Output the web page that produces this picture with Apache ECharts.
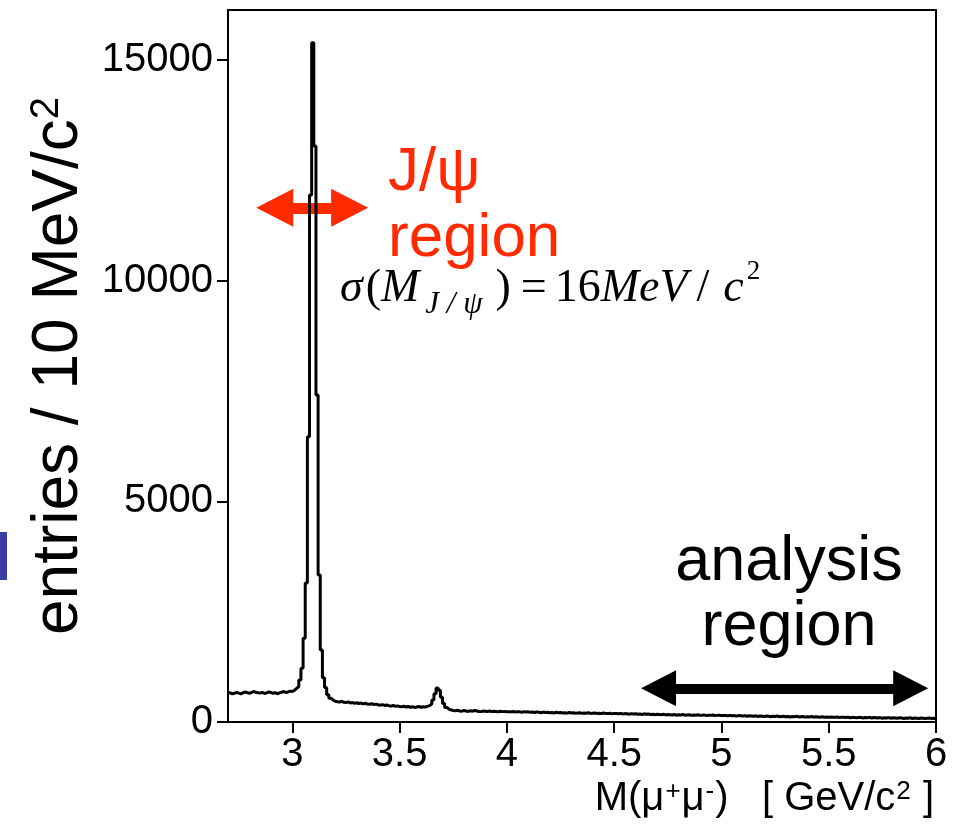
<!DOCTYPE html>
<html>
<head>
<meta charset="utf-8">
<script src="https://cdn.jsdelivr.net/npm/echarts@6/dist/echarts.min.js"></script>
<style>html,body{margin:0;padding:0;background:#fff;}#c{width:958px;height:824px;}</style>
</head>
<body>
<div id="c"></div>
<script>
// ---- data (entries per 10 MeV/c^2 bin, starting at 2.70 GeV/c^2) ----
const binStart = 2.70;
const binWidth = 0.01;
const counts = [
  // 2.70 - 2.99
  660, 640, 650, 670, 655, 640, 660, 680, 665, 650,
  670, 690, 675, 660, 655, 670, 645, 660, 680, 670,
  650, 665, 640, 660, 675, 690, 670, 680, 700, 690,
  // 3.00 - 3.19 (J/psi)
  720, 760, 800, 950, 1220, 1900, 3150, 6460, 11940, 15390,
  13050, 7410, 3330, 1630, 1000, 780, 620, 540, 500, 470,
  // 3.20 - 3.59
  460, 450, 470, 445, 440, 455, 430, 440, 425, 435,
  420, 430, 410, 425, 405, 400, 415, 395, 405, 390,
  380, 395, 375, 385, 370, 360, 375, 355, 365, 350,
  345, 360, 340, 350, 335, 345, 330, 340, 350, 335,
  // 3.60 - 3.74 (psi')
  345, 340, 355, 370, 410, 500, 640, 770, 720, 560,
  420, 330, 290, 270, 260,
  // 3.75 - 3.99
  255, 265, 250, 245, 260, 250, 240, 255, 245, 260,
  250, 240, 235, 250, 245, 240, 250, 235, 245, 240,
  230, 245, 235, 240, 230,
  // 4.00 - 4.49
  235, 230, 240, 225, 235, 230, 220, 235, 225, 230,
  220, 225, 215, 230, 220, 210, 225, 215, 220, 210,
  215, 205, 220, 210, 215, 205, 210, 200, 215, 205,
  210, 200, 205, 210, 195, 205, 200, 210, 195, 200,
  205, 195, 200, 190, 205, 195, 190, 200, 185, 195,
  // 4.50 - 4.99
  190, 185, 195, 180, 190, 185, 175, 190, 180, 185,
  175, 180, 170, 185, 175, 180, 170, 175, 165, 175,
  170, 165, 175, 160, 170, 165, 160, 170, 155, 165,
  160, 170, 155, 160, 165, 150, 160, 155, 165, 150,
  155, 160, 145, 155, 150, 160, 145, 150, 155, 145,
  // 5.00 - 5.49
  150, 145, 140, 150, 140, 145, 135, 145, 140, 135,
  145, 130, 140, 135, 130, 140, 125, 135, 130, 125,
  135, 130, 120, 130, 125, 135, 120, 125, 130, 120,
  125, 115, 125, 120, 130, 115, 120, 125, 110, 120,
  115, 125, 110, 120, 115, 110, 120, 105, 115, 110,
  // 5.50 - 5.99
  115, 110, 105, 115, 100, 110, 105, 100, 110, 95,
  105, 100, 95, 105, 100, 90, 100, 95, 105, 90,
  100, 95, 90, 100, 85, 95, 90, 100, 85, 95,
  90, 85, 95, 90, 80, 90, 85, 95, 80, 90,
  85, 80, 90, 85, 80, 85, 90, 80, 85, 80
];
const xRange = [2.7, 6];
const yRange = [0, 16130];
const xTicks = [3, 3.5, 4, 4.5, 5, 5.5, 6];
const yTicks = [0, 5000, 10000, 15000];
// double arrows (x extent in GeV/c^2 of arrowhead centres, y level in entries)
const jpsiArrowX = [2.918, 3.267];
const jpsiArrowY = 11650;
const analysisArrowX = [4.707, 5.882];
const analysisArrowY = 764;

const histData = counts.map((c, i) => [+(binStart + i * binWidth).toFixed(2), c]);
histData.push([xRange[1], counts[counts.length - 1]]);

const chart = echarts.init(document.getElementById('c'), null, {renderer: 'canvas'});
const SANS = '"Liberation Sans", Arial, Helvetica, sans-serif';
const SERIF = '"Liberation Serif", "Times New Roman", serif';
const F = 46;
function it(padL, padR) { return {fontFamily: SERIF, fontStyle: 'italic', fontSize: F, lineHeight: 62, fill: '#000', padding: [0, padR || 0, 0, padL || 0]}; }
function rm(padL, padR) { return {fontFamily: SERIF, fontSize: F, lineHeight: 62, fill: '#000', padding: [0, padR || 0, 0, padL || 0]}; }

chart.setOption({
  animation: false,
  backgroundColor: '#fff',
  grid: {left: 228, right: 22, top: 10, bottom: 102, show: true, borderColor: '#000', borderWidth: 2, backgroundColor: 'transparent'},
  xAxis: {
    type: 'value', min: xRange[0], max: xRange[1],
    axisLine: {onZero: false, lineStyle: {color: '#000', width: 2}},
    axisTick: {customValues: xTicks, length: 11, lineStyle: {color: '#000', width: 2}},
    axisLabel: {customValues: xTicks, color: '#000', fontSize: 40, fontFamily: SANS, margin: 13, formatter: v => String(v)},
    splitLine: {show: false},
    name: 'M(μ{sup|+}μ{sup|-})   [ GeV/c{sup|2} ]',
    nameLocation: 'end', nameGap: -2,
    nameTextStyle: {color: '#000', fontSize: 40, fontFamily: SANS, align: 'right', verticalAlign: 'top', padding: [57, 0, 0, 0],
      rich: {sup: {fontSize: 26, fontFamily: SANS, verticalAlign: 'top', color: '#000', padding: [0, 1, 0, 1]}}}
  },
  yAxis: {
    type: 'value', min: yRange[0], max: yRange[1],
    axisLine: {lineStyle: {color: '#000', width: 2}},
    axisTick: {customValues: yTicks, length: 11, lineStyle: {color: '#000', width: 2}},
    axisLabel: {customValues: yTicks, color: '#000', fontSize: 40, fontFamily: SANS, margin: 15, formatter: v => String(v)},
    splitLine: {show: false},
    name: 'entries / 10 MeV/c{sup|2}',
    nameLocation: 'middle', nameRotate: 90, nameGap: 122,
    nameTextStyle: {color: '#000', fontSize: 64, fontFamily: SANS,
      rich: {sup: {fontSize: 40, fontFamily: SANS, verticalAlign: 'top', color: '#000'}}}
  },
  series: [
    {
      name: 'arrows', type: 'line', data: [], silent: true,
      markLine: {
        silent: true, animation: false,
        symbol: ['triangle', 'triangle'],
        label: {show: false},
        emphasis: {disabled: true},
        data: [
          [{coord: [jpsiArrowX[0], jpsiArrowY], symbolSize: [38, 37], lineStyle: {color: '#ff2a00', width: 11, type: 'solid'}, itemStyle: {color: '#ff2a00'}},
           {coord: [jpsiArrowX[1], jpsiArrowY], symbolSize: [38, 37]}],
          [{coord: [analysisArrowX[0], analysisArrowY], symbolSize: [36, 35], lineStyle: {color: '#000', width: 10, type: 'solid'}, itemStyle: {color: '#000'}},
           {coord: [analysisArrowX[1], analysisArrowY], symbolSize: [36, 35]}]
        ]
      }
    },
    {
      name: 'M(μ+μ-)', type: 'line', step: 'end', data: histData, z: 10,
      showSymbol: false, symbol: 'none',
      lineStyle: {color: '#000', width: 3}
    }
  ],
  graphic: [
    {type: 'text', left: 388, top: 140, z: 20,
     style: {text: 'J/ψ\nregion', fill: '#ff2a00', fontSize: 62, fontFamily: SANS, lineHeight: 66}},
    {type: 'text', x: 789, y: 530, z: 20,
     style: {text: 'analysis\nregion', fill: '#000', fontSize: 63, fontFamily: SANS, lineHeight: 65, align: 'center', textAlign: 'center'}},
    {type: 'text', left: 340, top: 258, z: 20,
     style: {
       text: '{s|σ}{lp|(}{m|M}{sub|J / ψ}{rp|)}{eq|=}{n|16}{mev|MeV}{sl|/}{c|c}{sup|2}',
       rich: {
         s: it(0, 0),
         lp: rm(3, 0),
         m: it(0, 4),
         sub: {fontFamily: SERIF, fontStyle: 'italic', fontSize: 31, lineHeight: 28, verticalAlign: 'bottom', fill: '#000', padding: [0, 13, 0, 2]},
         rp: rm(0, 0),
         eq: rm(10, 0),
         n: rm(8, 0),
         mev: it(0, 0),
         sl: rm(9, 0),
         c: it(14, 0),
         sup: {fontFamily: SERIF, fontSize: 27, lineHeight: 44, verticalAlign: 'top', fill: '#000', padding: [0, 0, 0, 3]}
       }
     }},
    {type: 'rect', left: 0, top: 532, z: 20, shape: {width: 7, height: 48}, style: {fill: '#3b3ba8'}}
  ]
});
</script>
</body>
</html>
